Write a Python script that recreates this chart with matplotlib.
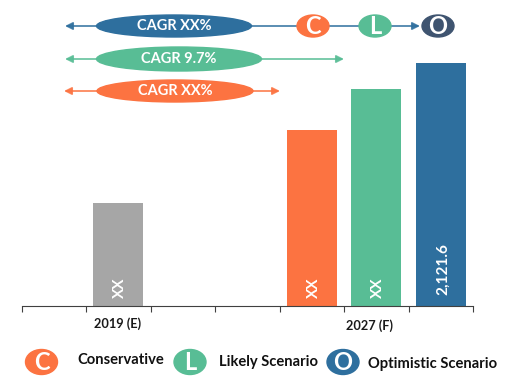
import matplotlib
matplotlib.use('Agg')
import matplotlib.pyplot as plt
from matplotlib.patches import Ellipse

W, H = 517, 378

categories = ['', '2019 (E)', '', '', '2027 (F)', '', '']
bar_slots = [1, 4, 5, 6]
bar_values = [899, 1537, 1895, 2121.6]
bar_labels = ['XX', 'XX', 'XX', '2,121.6']
bar_colors = ['#A6A6A6', '#FC7341', '#58BD95', '#2E6F9E']

# cagr arrows: label, colour, x from, x to, y, ellipse centre, ellipse width, ellipse height
cagr_rows = [
    ('CAGR XX%', '#2E6F9E', 65, 420, 26, 174, 155, 22),
    ('CAGR 9.7%', '#58BD95', 65, 344, 59, 179, 165, 24),
    ('CAGR XX%', '#FC7341', 64, 280, 91, 175, 156, 22),
]
badges_top = [('C', '#FC7341', 313, 26), ('L', '#58BD95', 375, 26), ('O', '#3F5470', 438, 26)]
legend_items = [
    ('C', '#FC7341', 41.5, 362, 'Conservative', 77, 360),
    ('L', '#58BD95', 190, 362, 'Likely Scenario', 219, 362),
    ('O', '#2E6F9E', 343, 362, 'Optimistic Scenario', 368, 364),
]

plt.rcParams['font.family'] = ['Lato', 'DejaVu Sans']

fig = plt.figure(figsize=(W / 100, H / 100), dpi=100)

# main bar axes
ax = fig.add_axes([21.5 / W, 1 - 306 / H, (473 - 21.5) / W, 260 / H])
ax.bar(bar_slots, bar_values, width=0.77, color=bar_colors)
ax.set_xlim(-0.5, 6.5)
ax.set_ylim(0, 2121.6 * 260 / 243)
for s in ['top', 'left', 'right']:
    ax.spines[s].set_visible(False)
ax.spines['bottom'].set_color('#404040')
ax.spines['bottom'].set_linewidth(0.8)
ax.set_yticks([])
ax.set_xticks([i - 0.5 for i in range(8)])
ax.set_xticklabels([])
ax.tick_params(axis='x', direction='out', length=4, width=0.8, color='#404040')
ax.patch.set_alpha(0)

for slot, val, lab in zip(bar_slots, bar_values, bar_labels):
    off = 6 if lab == 'XX' else 8
    ax.annotate(lab, (slot, 0), xytext=(1.5, off), textcoords='offset points', rotation=90,
                ha='center', va='bottom', color='white', fontsize=11, fontweight='bold')

# overlay in pixel coordinates
ov = fig.add_axes([0, 0, 1, 1])
ov.set_xlim(0, W)
ov.set_ylim(H, 0)
ov.axis('off')
ov.patch.set_alpha(0)

ov.text(118, 324, '2019 (E)', ha='center', va='center', fontsize=9.2, fontweight='bold', color='#1a1a1a')
ov.text(369, 326, '2027 (F)', ha='center', va='center', fontsize=9.2, fontweight='bold', color='#1a1a1a')

for lab, col, x0, x1, y, cx, ew, eh in cagr_rows:
    ov.annotate('', xy=(x0, y), xytext=(x1, y),
                arrowprops=dict(arrowstyle='<|-|>', color=col, lw=1.3, alpha=0.85,
                                mutation_scale=11, shrinkA=0, shrinkB=0))
    ov.add_patch(Ellipse((cx, y), ew, eh, color=col, zorder=3))
    ov.text(cx, y, lab, ha='center', va='center', color='white', fontsize=10.5,
            fontweight='bold', zorder=4)

for lab, col, x, y in badges_top:
    ov.add_patch(Ellipse((x, y), 32, 22, color=col, zorder=3))
    ov.text(x, y, lab, ha='center', va='center', color='white', fontsize=17,
            fontweight='bold', zorder=4)

for lab, col, x, y, name, tx, ty in legend_items:
    ov.add_patch(Ellipse((x, y), 32, 25, color=col, zorder=3))
    ov.text(x, y, lab, ha='center', va='center', color='white', fontsize=17,
            fontweight='bold', zorder=4)
    ov.text(tx, ty, name, ha='left', va='center', color='#111111', fontsize=10.6, fontweight='bold')

fig.savefig('out.png', dpi=100)
